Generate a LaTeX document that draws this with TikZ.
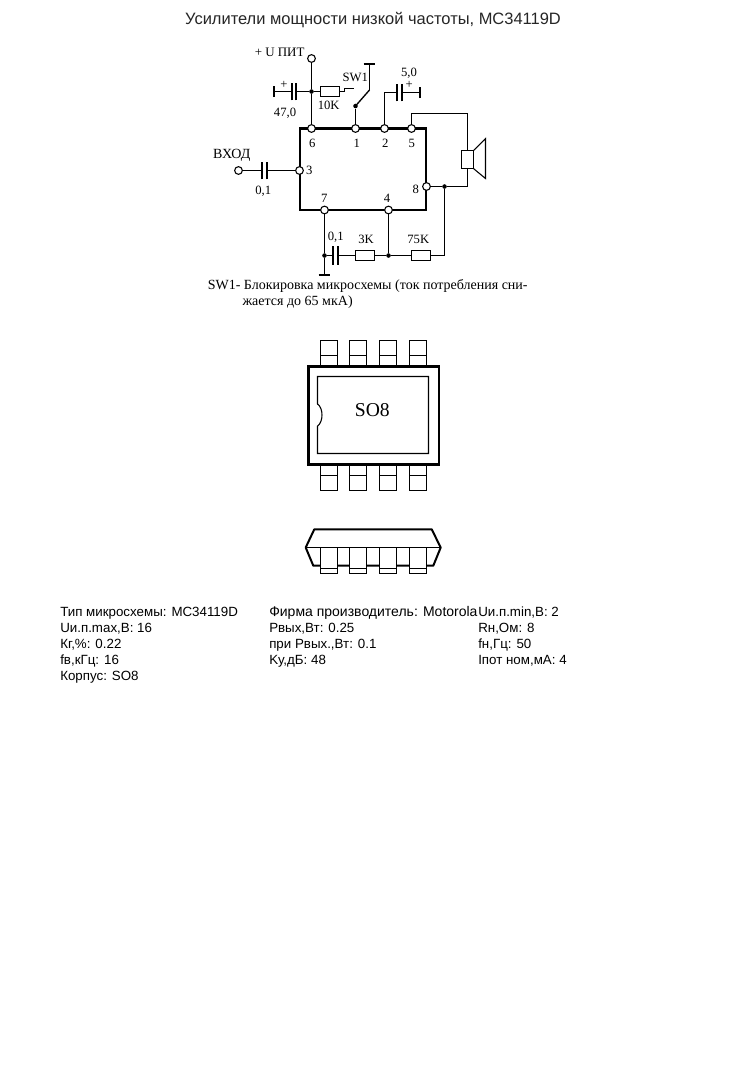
\documentclass[tikz,border=0pt]{standalone}
\usepackage{fontspec}
\setmainfont{Liberation Serif}
\newfontfamily\arialf{Liberation Sans}
\tikzset{
  thinw/.style={line width=0.8pt,black},
  thickw/.style={line width=1.7pt,black},
  plate/.style={line width=1.5pt,black},
  pin/.style={circle,draw,fill=white,line width=0.8pt,inner sep=0pt,minimum size=5.8pt},
  junc/.style={circle,fill=black,inner sep=0pt,minimum size=3.4pt},
  res/.style={rectangle,draw,fill=white,line width=0.8pt,inner sep=0pt,minimum width=14.25pt,minimum height=7.5pt},
  lab/.style={inner sep=0pt,yshift=-0.7pt,font=\fontsize{10.5}{12}\selectfont},
  smalllab/.style={inner sep=0pt,yshift=-0.5pt,font=\fontsize{9.5}{12}\selectfont},
  data/.style={inner sep=0pt,anchor=west,yshift=-0.7pt,font=\arialf\fontsize{10}{12}\selectfont},
  lead/.style={draw,fill=white,line width=0.8pt}
}
\begin{document}
\begin{tikzpicture}[x=0.75pt,y=-0.75pt]
\useasboundingbox (0,0) rectangle (747,1083);
\fill[white] (0,0) rectangle (747,1083);
\node[inner sep=0pt,font=\arialf\fontsize{12.35}{14}\selectfont,text=black!85] (title) at (373,19.8) {Усилители мощности низкой частоты, MC34119D};
% IC body
\draw[thickw] (300,128.5) rectangle (426,210);
% pins
\node[pin] (p6) at (311.5,128.5) {};
\node[pin] (p1) at (355.5,128.5) {};
\node[pin] (p2) at (384.5,128.5) {};
\node[pin] (p5) at (411.5,128.5) {};
\node[pin] (p3) at (299.5,170.5) {};
\node[pin] (p8) at (426.5,186.5) {};
\node[pin] (p7) at (324.5,210) {};
\node[pin] (p4) at (388.5,210) {};
\node[pin] (vcc) at (311.5,58.5) {};
\node[pin] (inp) at (238.5,170.5) {};
\node[lab,anchor=east,font=\fontsize{9.7}{12}\selectfont] (vlab) at (304.7,51) {+ U ПИТ};
% pin labels
\node[smalllab] (l6) at (312.3,142.7) {6};
\node[smalllab] (l1) at (356.7,142.7) {1};
\node[smalllab] (l2) at (385.3,142.7) {2};
\node[smalllab] (l5) at (411.7,142.7) {5};
\node[smalllab] (l3) at (309.3,169.5) {3};
\node[smalllab] (l8) at (415.7,188.3) {8};
\node[smalllab] (l7) at (324.3,197.3) {7};
\node[smalllab] (l4) at (387,197.3) {4};
% supply
\node[junc] (j1) at (311.5,91.5) {};
\draw[thinw] (vcc) -- (j1);
\draw[thinw] (j1) -- (p6);
% C 47,0
\coordinate (c47a) at (296,91.5);
\coordinate (c47b) at (291.7,91.5);
\coordinate (g47) at (274,91.5);
\draw[thinw] (j1) -- (c47a);
\draw[plate] ([yshift=-6.6pt]c47a) -- ([yshift=6.6pt]c47a);
\draw[plate] ([yshift=-6.6pt]c47b) -- ([yshift=6.6pt]c47b);
\draw[thinw] (c47b) -- (g47);
\draw[plate] ([yshift=-4.2pt]g47) -- ([yshift=4.2pt]g47);
\node[smalllab] (plus1) at (284,84.5) {+};
\node[smalllab] (v47) at (285,112.7) {47,0};
% R 10K
\node[res] (r10) at (330,91.5) {};
\draw[thinw] (j1) -- (r10);
\coordinate (s1) at (344.5,91.5);
\coordinate (s2) at (344.5,88.5);
\coordinate (s3) at (353.7,88.5);
\draw[thinw] (r10) -- (s1) -- (s2) -- (s3);
\node[smalllab] (v10) at (328.7,105) {10K};
% switch
\coordinate (st) at (369.5,63.5);
\coordinate (sc) at (369.5,90);
\coordinate (sm) at (355.5,106);
\draw[plate] ([xshift=-4.4pt]st) -- ([xshift=4.4pt]st);
\draw[thinw] (st) -- (sc);
\draw[line width=1pt] (sc) -- (sm);
\node[junc] (sj) at (sm) {};
\draw[thinw] (sj) -- (p1);
\node[smalllab] (sw) at (355.3,76.7) {SW1};
% C 5,0
\coordinate (c5a) at (397.3,92.5);
\coordinate (c5b) at (402,92.5);
\coordinate (g5) at (420,92.5);
\draw[thinw] (p2) |- (c5a);
\draw[plate] ([yshift=-6.6pt]c5a) -- ([yshift=6.6pt]c5a);
\draw[plate] ([yshift=-6.6pt]c5b) -- ([yshift=6.6pt]c5b);
\draw[thinw] (c5b) -- (g5);
\draw[plate] ([yshift=-4.2pt]g5) -- ([yshift=4.2pt]g5);
\node[smalllab] (plus2) at (409.3,84.5) {+};
\node[smalllab] (v5) at (409,73) {5,0};
% speaker
\node[rectangle,draw,line width=0.8pt,inner sep=0pt,minimum width=8.7pt,minimum height=13.2pt] (spk) at (467.5,159.5) {};
\draw[thinw] (spk.north east) -- (485.5,138.7) -- (485.5,178.5) -- (spk.south east);
\coordinate (w5) at (411.5,113.5);
\draw[thinw] (p5) -- (w5) -| (spk.north);
\node[junc] (j8) at (444.5,186.5) {};
\draw[thinw] (p8) -- (j8);
\draw[thinw] (j8) -| (spk.south);
% input
\coordinate (cia) at (262.3,170.5);
\coordinate (cib) at (266.7,170.5);
\draw[thinw] (inp) -- (cia);
\draw[plate] ([yshift=-6.6pt]cia) -- ([yshift=6.6pt]cia);
\draw[plate] ([yshift=-6.6pt]cib) -- ([yshift=6.6pt]cib);
\draw[thinw] (cib) -- (p3);
\node[lab] (vin) at (231.7,154.3) {ВХОД};
\node[smalllab] (v01a) at (263.3,190.7) {0,1};
% feedback
\node[junc] (j7) at (324.5,255.5) {};
\node[junc] (j4) at (388.5,255.5) {};
\node[res] (r3) at (365,255.5) {};
\node[res] (r75) at (421,255.5) {};
\coordinate (cfa) at (333.3,255.5);
\coordinate (cfb) at (338,255.5);
\coordinate (gf) at (324.5,275);
\draw[thinw] (p7) -- (j7);
\draw[thinw] (j7) -- (gf);
\draw[plate] ([xshift=-4.4pt]gf) -- ([xshift=4.4pt]gf);
\draw[thinw] (j7) -- (cfa);
\draw[plate] ([yshift=-6.9pt]cfa) -- ([yshift=6.9pt]cfa);
\draw[plate] ([yshift=-6.9pt]cfb) -- ([yshift=6.9pt]cfb);
\draw[thinw] (cfb) -- (r3);
\draw[thinw] (r3) -- (j4);
\draw[thinw] (p4) -- (j4);
\draw[thinw] (j4) -- (r75);
\draw[thinw] (r75) -| (j8);
\node[smalllab] (v01b) at (335.7,236.7) {0,1};
\node[smalllab] (v3k) at (366,239) {3K};
\node[smalllab] (v75k) at (418.3,239) {75K};
% note
\node[lab,anchor=west] (n1) at (207.5,285) {SW1- Блокировка микросхемы (ток потребления сни-};
\node[lab,anchor=west] (n2) at (242.3,301) {жается до 65 мкА)};
% SO8 top view leads
\foreach \x/\n in {320.5/a,349.5/b,379.5/c,409.5/d}{
  \draw[lead] (\x,340.5) rectangle ++(17,26);
  \draw[thinw] (\x,355.5) -- ++(17,0);
  \draw[lead] (\x,464.5) rectangle ++(17,26);
  \draw[thinw] (\x,475.5) -- ++(17,0);
}
\draw[line width=2pt,fill=white] (308.5,366.7) rectangle (439,464.3);
\draw[thinw] (317.5,404) -- (317.5,376.5) -- (428.5,376.5) -- (428.5,453.5) -- (317.5,453.5) -- (317.5,426)
  .. controls (323.5,422) and (323.5,408) .. (317.5,404);
\node[inner sep=0pt,font=\fontsize{14.7}{16}\selectfont] (so8) at (372.3,410.5) {SO8};
% side view
\draw[line width=1.5pt,line join=round] (305.7,547.5) -- (314.3,529.3) -- (431.7,529.3) -- (440.7,547.5) -- (433.3,565.7) -- (313.3,565.7) -- cycle;
\draw[thinw] (305.7,547.5) -- (440.7,547.5);
\foreach \x in {320.5,349.5,379.5,409.5}{
  \draw[lead] (\x,547.5) rectangle ++(17,26);
  \draw[thinw] (\x,568.5) -- ++(17,0);
}
% data
\node[data] (d11) at (60,612) {Тип микросхемы: MC34119D};
\node[data] (d12) at (60,628) {Uи.п.max,В: 16};
\node[data] (d13) at (60,644) {Кг,\%: 0.22};
\node[data] (d14) at (60,660) {fв,кГц: 16};
\node[data] (d15) at (60,676) {Корпус: SO8};
\node[data,font=\arialf\fontsize{10.5}{12}\selectfont] (d21) at (269,612) {Фирма производитель: Motorola};
\node[data] (d22) at (269,628) {Pвых,Вт: 0.25};
\node[data] (d23) at (269,644) {при Pвых.,Вт: 0.1};
\node[data] (d24) at (269,660) {Kу,дБ: 48};
\node[data] (d31) at (478,612) {Uи.п.min,В: 2};
\node[data] (d32) at (478,628) {Rн,Ом: 8};
\node[data] (d33) at (478,644) {fн,Гц: 50};
\node[data] (d34) at (478,660) {Iпот ном,мА: 4};
\end{tikzpicture}
\end{document}
